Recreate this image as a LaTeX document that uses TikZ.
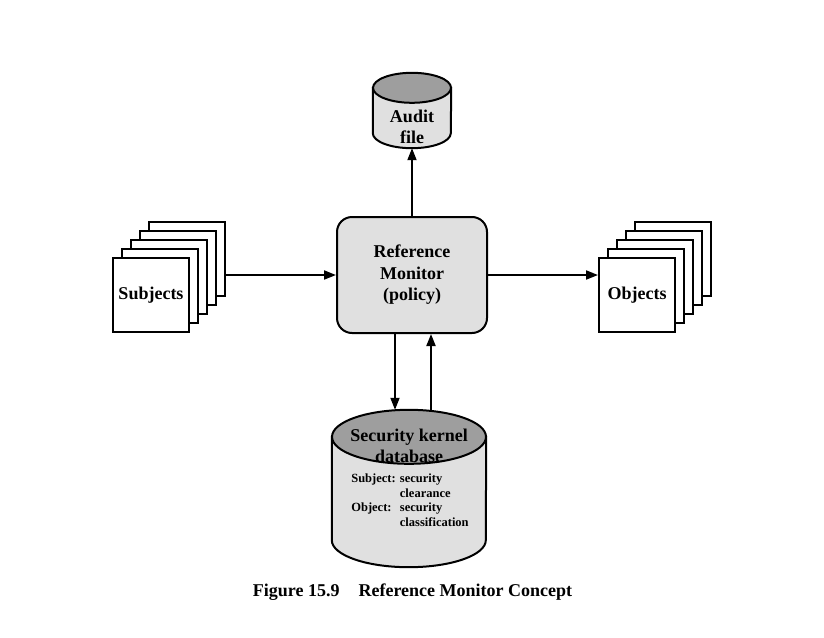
\documentclass[tikz,border=0pt]{standalone}
\usepackage{fontspec}
\setmainfont{Liberation Serif}
\usetikzlibrary{arrows.meta,positioning}
\definecolor{bodygray}{gray}{0.88}
\definecolor{capgray}{gray}{0.62}

% drum outline round a named node: #1 node, #2 x radius, #3 y radius
\newcommand{\drumshape}[3]{
    \draw[line width=2pt, fill=bodygray] ([yshift=-#3]#1.north west) -- ([yshift=#3]#1.south west)
        arc[start angle=180, end angle=360, x radius=#2, y radius=#3] -- ([yshift=-#3]#1.north east) -- cycle;
    \draw[line width=2pt, fill=capgray] ([yshift=-#3]#1.north) ellipse [x radius=#2, y radius=#3];
}

\begin{document}
\begin{tikzpicture}[x=1pt, y=-1pt,
        font=\fontsize{18}{21.5}\selectfont\bfseries,
        page/.style={draw, line width=2pt, fill=white, minimum width=76pt, minimum height=74pt, inner sep=0pt},
        link/.style={-{Triangle[length=12pt, width=9pt]}, line width=1.8pt}]
        \useasboundingbox (0,0) rectangle (824,637);

        % Central node
        \node[draw, line width=2pt, rounded corners=15pt, fill=bodygray, minimum width=150pt,
            minimum height=116pt, align=center] (mon) at (412,275) {Reference\\Monitor\\(policy)};

        % Audit file
        \node[minimum width=78pt, minimum height=75pt, inner sep=0pt] (audit) at (412,110.5) {};
        \drumshape{audit}{39pt}{15pt}
        \node[align=center] (audittxt) at (412,127) {Audit\\file};

        % Subjects and objects (stacks of pages)
        \foreach \i in {4,...,1} {
            \node[page] (subj\i) at (151+9*\i, 295-9*\i) {};
            \node[page] (obj\i) at (637+9*\i, 295-9*\i) {};
        }
        \node[page] (subj) at (151,295) {Subjects};
        \node[page] (obj) at (637,295) {Objects};

        % Security kernel database
        \node[minimum width=154pt, minimum height=157pt, inner sep=0pt] (db) at (409,488.5) {};
        \drumshape{db}{77pt}{27pt}
        \node[align=center] (dbtitle) at (409,446) {Security kernel\\database};
        \node[font=\fontsize{12.5}{14.5}\selectfont\bfseries] (dbattr) at (410,501.5)
            {\begin{tabular}{@{}l@{ }l@{}}Subject: & security\\ & clearance\\Object: & security\\ & classification\end{tabular}};

        % Connections
        \draw[link] (mon.north) -- (audit.south);
        \draw[link] (mon.west -| subj4.east) -- (mon.west);
        \draw[link] (mon.east) -- (mon.east -| obj.west);
        \draw[link] ([xshift=-17pt]mon.south) -- ([xshift=-17pt]mon.south |- db.north);
        \draw[link] ([xshift=19pt]mon.south |- db.north) -- ([xshift=19pt]mon.south);

        % Caption
        \node (caption) at (412.5,592) {Figure 15.9\hspace{19pt}Reference Monitor Concept};
    \end{tikzpicture}
\end{document}
